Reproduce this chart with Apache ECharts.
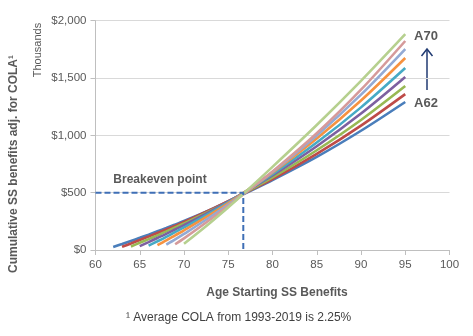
<!DOCTYPE html>
<html>
<head>
<meta charset="utf-8">
<script src="https://cdn.jsdelivr.net/npm/echarts@6/dist/echarts.min.js"></script>
<style>
html,body{margin:0;padding:0;background:#fff;}
#c{width:473px;height:336px;}
</style>
</head>
<body>
<div id="c"></div>
<script>
// Age grid shared by all series (null = benefits not started yet)
const ages = [62, 63, 64, 65, 66, 67, 68, 69, 70, 73, 76, 80, 85, 90, 95];
const seriesNames = ['A62', 'A63', 'A64', 'A65', 'A66', 'A67', 'A68', 'A69', 'A70'];
// Cumulative benefits ($ thousands)
const a62 = [26, 52, 79, 106, 134, 163, 192, 222, 253, 352, 460, 610, 812, 1040, 1291];
const a63 = [null, 28, 57, 87, 117, 148, 179, 211, 244, 351, 465, 618, 838, 1085, 1360];
const a64 = [null, null, 31, 63, 95, 128, 162, 197, 232, 343, 462, 633, 870, 1134, 1430];
const a65 = [null, null, null, 34, 69, 105, 141, 179, 217, 337, 465, 650, 905, 1190, 1509];
const a66 = [null, null, null, null, 38, 76, 115, 156, 197, 326, 464, 662, 937, 1244, 1587];
const a67 = [null, null, null, null, null, 42, 84, 128, 172, 311, 460, 675, 972, 1304, 1675];
const a68 = [null, null, null, null, null, null, 46, 92, 140, 290, 450, 680, 999, 1355, 1753];
const a69 = [null, null, null, null, null, null, null, 50, 101, 268, 445, 685, 1018, 1398, 1823];
const a70 = [null, null, null, null, null, null, null, null, 54, 240, 441, 725, 1090, 1475, 1882];
const allValues = [a62, a63, a64, a65, a66, a67, a68, a69, a70];
const colors = ['#4A7EBB', '#BE4B48', '#98B954', '#7D60A0', '#46AAC5', '#F69240', '#93AAD4', '#D59A9A', '#B6D08F'];

const breakevenAge = 76.7;
const breakevenValue = 500;
const xTicks = [60, 100, 5];   // min, max, step
const yTicks = [0, 2000, 500]; // min, max, step

const FONT = '"Liberation Sans", Arial, sans-serif';
const GRAY = '#595959';

const lineSeries = seriesNames.map((name, i) => ({
  name: name,
  type: 'line',
  data: ages.map((a, k) => [a, allValues[i][k]]).filter(p => p[1] !== null),
  smooth: 0.3,
  showSymbol: false,
  lineStyle: { color: colors[i], width: 2.6 },
  itemStyle: { color: colors[i] },
  z: 2
}));

lineSeries.push({
  name: 'breakeven',
  type: 'line',
  data: [[xTicks[0], breakevenValue], [breakevenAge, breakevenValue], [breakevenAge, 0]],
  showSymbol: false,
  lineStyle: { color: '#3F6FB6', width: 2, type: [6, 3] },
  z: 5
});

const chart = echarts.init(document.getElementById('c'), null, { renderer: 'canvas' });
chart.setOption({
  animation: false,
  backgroundColor: '#fff',
  grid: { left: 95.5, right: 23.5, top: 20.7, bottom: 86, containLabel: false },
  xAxis: {
    type: 'value',
    min: xTicks[0], max: xTicks[1], interval: xTicks[2],
    axisLine: { show: true, lineStyle: { color: '#BFBFBF', width: 1 } },
    axisTick: { show: true, length: 5, lineStyle: { color: '#BFBFBF' } },
    axisLabel: { color: GRAY, fontFamily: FONT, fontSize: 11.5, margin: 9 },
    splitLine: { show: false }
  },
  yAxis: {
    type: 'value',
    min: yTicks[0], max: yTicks[1], interval: yTicks[2],
    axisLine: { show: true, lineStyle: { color: '#BFBFBF', width: 1 } },
    axisTick: { show: true, length: 5, lineStyle: { color: '#BFBFBF' } },
    axisLabel: {
      color: GRAY, fontFamily: FONT, fontSize: 11.5, margin: 9,
      formatter: v => '$' + v.toLocaleString('en-US')
    },
    splitLine: { show: true, lineStyle: { color: '#D9D9D9', width: 1 } }
  },
  series: lineSeries,
  graphic: [
    { type: 'text', left: 'center', style: {} , invisible: true},
    { type: 'text', x: 14, y: 164, rotation: Math.PI / 2,
      style: { text: 'Cumulative SS benefits adj. for COLA¹', font: 'bold 12px ' + FONT, fill: GRAY, align: 'center', verticalAlign: 'middle' } },
    { type: 'text', x: 38, y: 50, rotation: Math.PI / 2,
      style: { text: 'Thousands', font: '11px ' + FONT, fill: GRAY, align: 'center', verticalAlign: 'middle' } },
    { type: 'text', x: 277, y: 293,
      style: { text: 'Age Starting SS Benefits', font: 'bold 12px ' + FONT, fill: GRAY, align: 'center', verticalAlign: 'middle' } },
    { type: 'text', x: 160, y: 180,
      style: { text: 'Breakeven point', font: 'bold 12px ' + FONT, fill: GRAY, align: 'center', verticalAlign: 'middle' } },
    { type: 'text', x: 426, y: 36,
      style: { text: 'A70', font: 'bold 13px ' + FONT, fill: GRAY, align: 'center', verticalAlign: 'middle' } },
    { type: 'text', x: 426, y: 103,
      style: { text: 'A62', font: 'bold 13px ' + FONT, fill: GRAY, align: 'center', verticalAlign: 'middle' } },
    { type: 'line', shape: { x1: 427, y1: 90, x2: 427, y2: 49 },
      style: { stroke: '#203A72', lineWidth: 1.5 } },
    { type: 'polyline', shape: { points: [[421.5, 56], [427, 49], [432.5, 56]] },
      style: { stroke: '#203A72', lineWidth: 1.5, fill: null } },
    { type: 'text', x: 126, y: 318,
      style: { text: '¹ Average COLA from 1993-2019 is 2.25%', font: '12px ' + FONT, fill: '#404040', align: 'left', verticalAlign: 'middle' } }
  ]
});
</script>
</body>
</html>
